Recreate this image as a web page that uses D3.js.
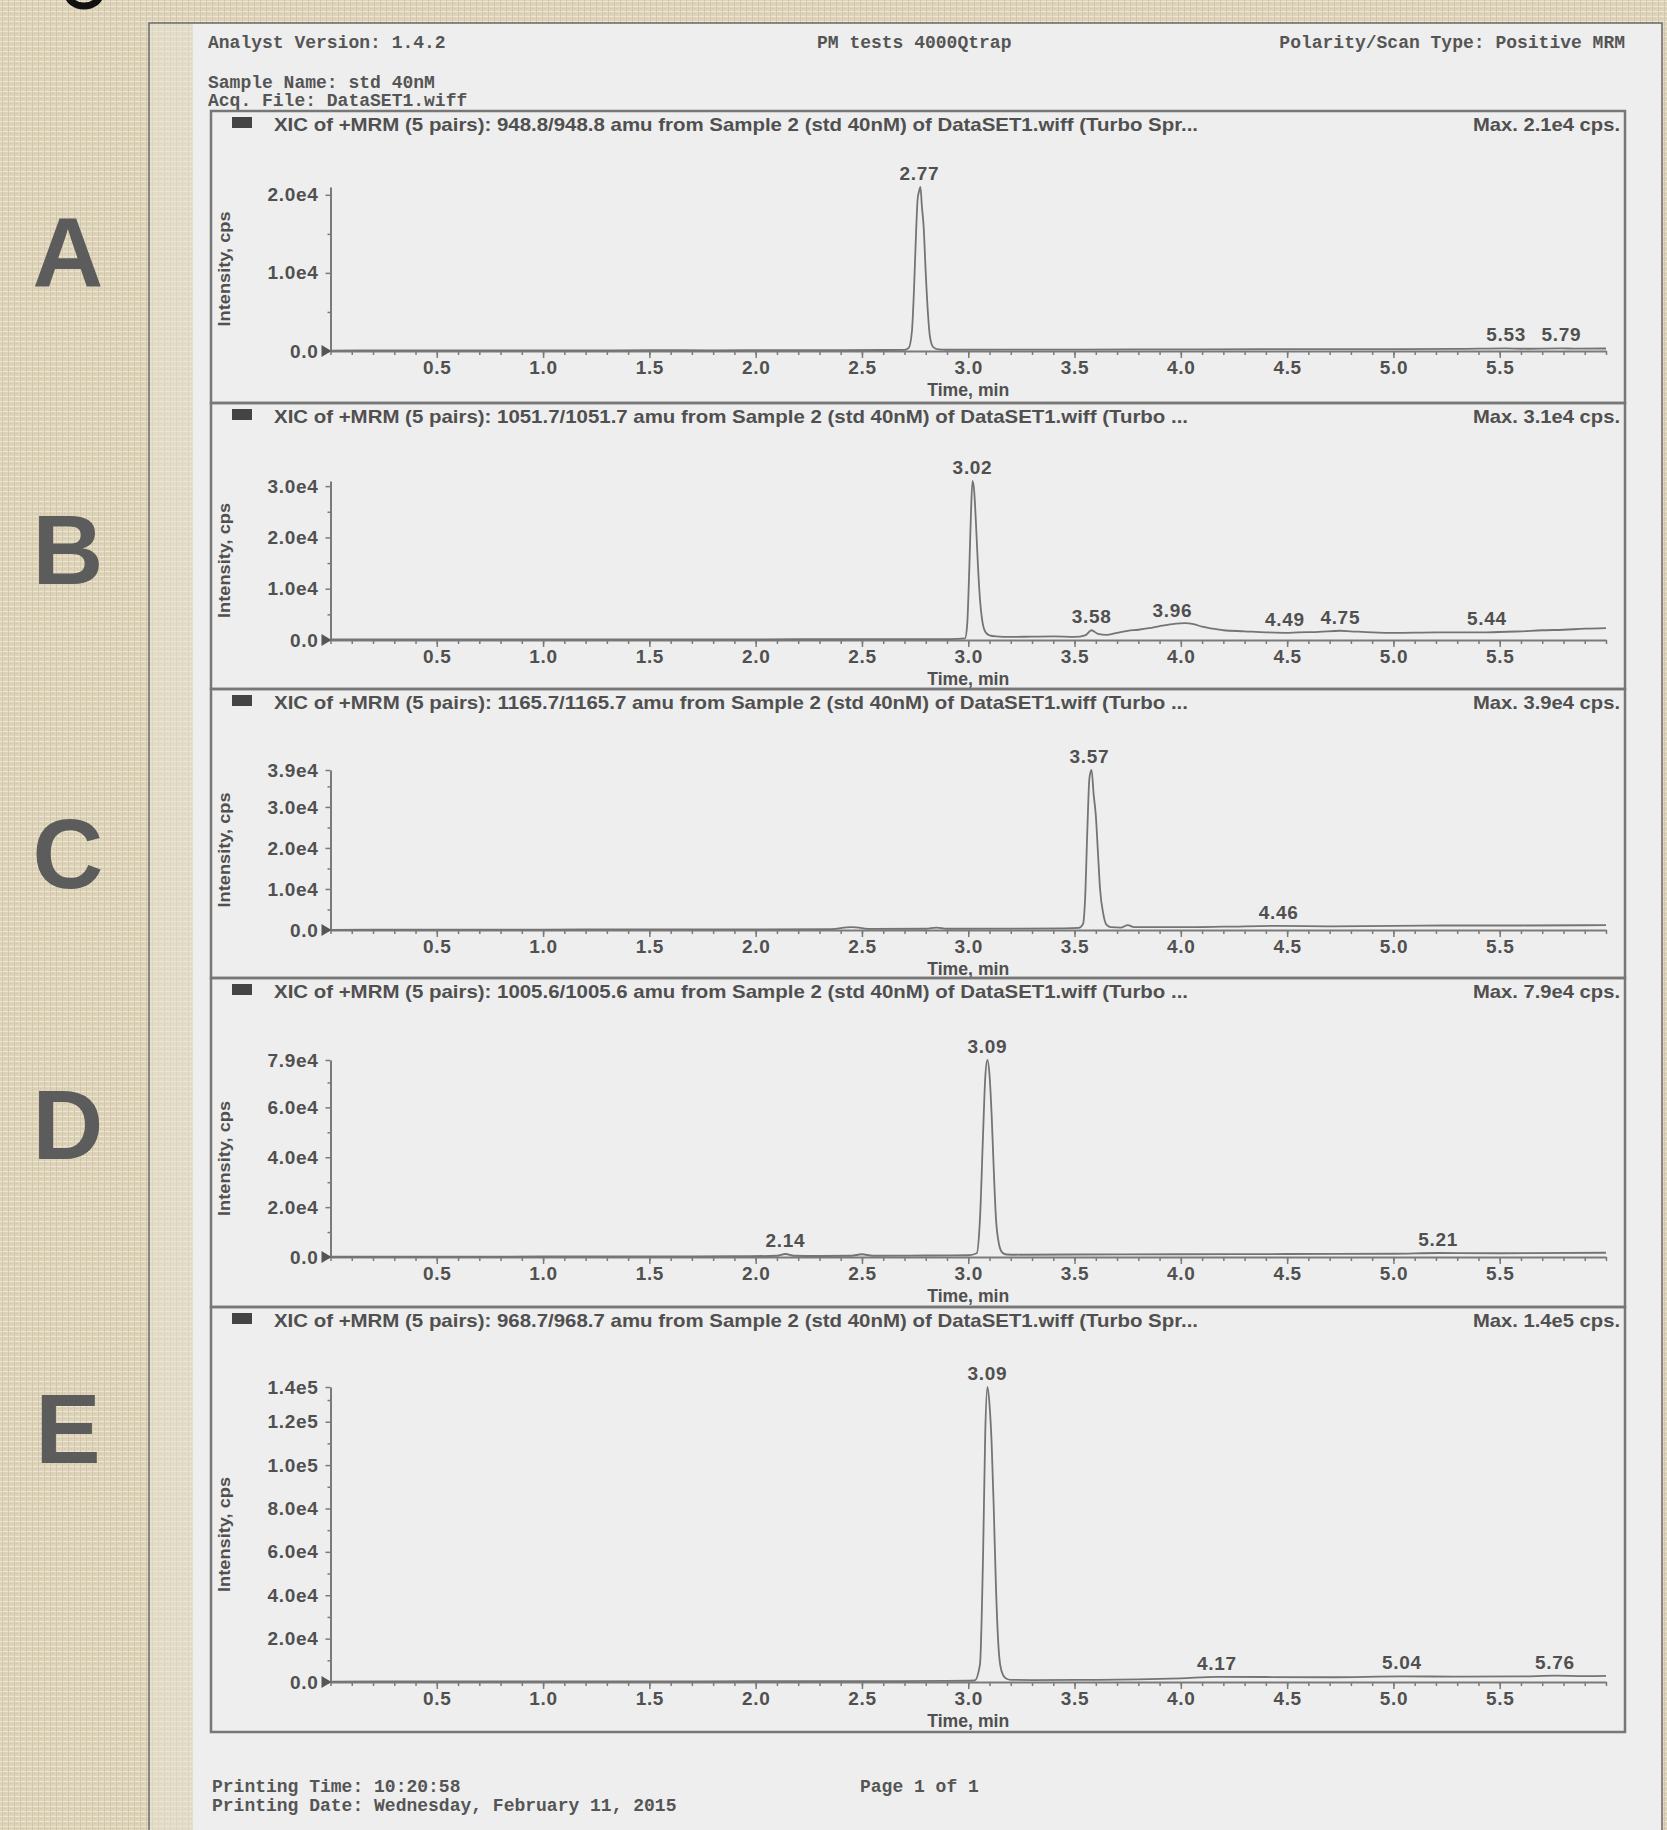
<!DOCTYPE html>
<html>
<head>
<meta charset="utf-8">
<script src="https://cdn.jsdelivr.net/npm/d3@7"></script>
<style>
  html, body { margin: 0; padding: 0; background: #ddd3ba; }
  svg { display: block; }
</style>
</head>
<body>
<div id="chart"></div>
<script>
// ---- data ----
const panelNames = ['A', 'B', 'C', 'D', 'E'];
const panelTitles = [
  'XIC of +MRM (5 pairs): 948.8/948.8 amu from Sample 2 (std 40nM) of DataSET1.wiff (Turbo Spr...',
  'XIC of +MRM (5 pairs): 1051.7/1051.7 amu from Sample 2 (std 40nM) of DataSET1.wiff (Turbo ...',
  'XIC of +MRM (5 pairs): 1165.7/1165.7 amu from Sample 2 (std 40nM) of DataSET1.wiff (Turbo ...',
  'XIC of +MRM (5 pairs): 1005.6/1005.6 amu from Sample 2 (std 40nM) of DataSET1.wiff (Turbo ...',
  'XIC of +MRM (5 pairs): 968.7/968.7 amu from Sample 2 (std 40nM) of DataSET1.wiff (Turbo Spr...'
];
const maxLabels = ['Max. 2.1e4 cps.', 'Max. 3.1e4 cps.', 'Max. 3.9e4 cps.', 'Max. 7.9e4 cps.', 'Max. 1.4e5 cps.'];
const yMax = [21000, 31000, 39000, 79000, 136000];

const yTicksA = [0, 10000, 20000];
const yTickLabelsA = ['0.0', '1.0e4', '2.0e4'];
const yTicksB = [0, 10000, 20000, 30000];
const yTickLabelsB = ['0.0', '1.0e4', '2.0e4', '3.0e4'];
const yTicksC = [0, 10000, 20000, 30000, 39000];
const yTickLabelsC = ['0.0', '1.0e4', '2.0e4', '3.0e4', '3.9e4'];
const yTicksD = [0, 20000, 40000, 60000, 79000];
const yTickLabelsD = ['0.0', '2.0e4', '4.0e4', '6.0e4', '7.9e4'];
const yTicksE = [0, 20000, 40000, 60000, 80000, 100000, 120000, 136000];
const yTickLabelsE = ['0.0', '2.0e4', '4.0e4', '6.0e4', '8.0e4', '1.0e5', '1.2e5', '1.4e5'];

const xTicks = [0.5, 1.0, 1.5, 2.0, 2.5, 3.0, 3.5, 4.0, 4.5, 5.0, 5.5];

// traces: time (min) / intensity (cps)
const timesA = [0.0, 0.3, 0.6, 0.9, 1.2, 1.5, 1.8, 2.1, 2.4, 2.6, 2.70, 2.72, 2.735, 2.745, 2.755, 2.762, 2.768, 2.775, 2.782, 2.79, 2.80, 2.81, 2.82, 2.835, 2.86, 2.9, 3.2, 3.5, 3.8, 4.1, 4.4, 4.7, 5.0, 5.3, 5.53, 5.6, 5.79, 5.85, 6.0];
const intensA = [60, 80, 70, 90, 80, 100, 90, 110, 120, 130, 150, 400, 2500, 8000, 15500, 19500, 20400, 21000, 18500, 16000, 10000, 5000, 1800, 500, 200, 160, 170, 180, 200, 210, 230, 240, 250, 270, 330, 290, 340, 300, 320];

const timesB = [0.0, 0.4, 0.8, 1.2, 1.6, 2.0, 2.4, 2.8, 2.95, 2.985, 2.995, 3.005, 3.013, 3.02, 3.028, 3.036, 3.045, 3.055, 3.065, 3.08, 3.10, 3.13, 3.2, 3.3, 3.4, 3.5, 3.55, 3.58, 3.61, 3.65, 3.7, 3.75, 3.8, 3.85, 3.9, 3.96, 4.02, 4.06, 4.1, 4.15, 4.2, 4.3, 4.4, 4.49, 4.55, 4.65, 4.75, 4.8, 4.9, 5.0, 5.2, 5.44, 5.6, 5.7, 5.8, 5.9, 6.0];
const intensB = [100, 120, 110, 130, 120, 140, 150, 170, 200, 300, 3000, 14000, 25000, 31000, 29000, 23000, 15000, 8000, 4000, 1600, 900, 700, 600, 650, 700, 600, 900, 1900, 1200, 1000, 1400, 1800, 2000, 2300, 2700, 3100, 3300, 3100, 2600, 2200, 1900, 1700, 1500, 1400, 1500, 1600, 1800, 1700, 1500, 1400, 1500, 1500, 1700, 1900, 2000, 2200, 2300];

const timesC = [0.0, 0.4, 0.8, 1.2, 1.6, 2.0, 2.35, 2.45, 2.55, 2.8, 2.85, 2.9, 3.2, 3.45, 3.52, 3.54, 3.55, 3.56, 3.57, 3.58, 3.59, 3.60, 3.61, 3.62, 3.635, 3.65, 3.67, 3.72, 3.75, 3.78, 4.0, 4.2, 4.46, 4.7, 5.0, 5.3, 5.6, 6.0];
const intensC = [50, 80, 100, 120, 140, 160, 200, 700, 250, 300, 600, 300, 350, 400, 500, 1500, 8000, 24000, 37000, 39000, 33000, 28000, 19000, 10000, 4000, 1300, 700, 600, 1200, 700, 700, 800, 1000, 900, 1000, 1100, 1100, 1200];

const timesD = [0.0, 0.5, 1.0, 1.5, 1.9, 2.1, 2.14, 2.18, 2.3, 2.45, 2.5, 2.55, 2.8, 3.0, 3.04, 3.055, 3.07, 3.08, 3.09, 3.1, 3.11, 3.12, 3.13, 3.145, 3.16, 3.18, 3.25, 3.5, 4.0, 4.5, 5.0, 5.21, 5.5, 6.0];
const intensD = [100, 150, 200, 250, 300, 500, 1200, 500, 400, 500, 1100, 500, 600, 700, 1500, 15000, 50000, 72000, 79000, 73000, 57000, 35000, 16000, 5000, 1800, 1000, 900, 1000, 1100, 1200, 1300, 1600, 1500, 1700];

const timesE = [0.0, 0.5, 1.0, 1.5, 2.0, 2.5, 2.9, 3.03, 3.055, 3.07, 3.08, 3.09, 3.10, 3.11, 3.12, 3.13, 3.14, 3.15, 3.165, 3.18, 3.2, 3.3, 3.6, 3.8, 4.0, 4.17, 4.4, 4.7, 5.04, 5.3, 5.6, 5.76, 5.9, 6.0];
const intensE = [200, 250, 300, 300, 350, 400, 500, 700, 8000, 60000, 115000, 136000, 128000, 110000, 80000, 45000, 20000, 8000, 3000, 1500, 1000, 900, 1000, 1200, 1700, 2400, 2300, 2200, 2600, 2500, 2600, 2900, 2700, 2800];

// labelled peaks: retention time + apex intensity
const peaksA = [2.77, 5.53, 5.79];
const peakIntA = [21000, 330, 340];
const peaksB = [3.02, 3.58, 3.96, 4.49, 4.75, 5.44];
const peakIntB = [31000, 1900, 3100, 1400, 1800, 1500];
const peaksC = [3.57, 4.46];
const peakIntC = [39000, 1000];
const peaksD = [3.09, 2.14, 5.21];
const peakIntD = [79000, 1200, 1600];
const peaksE = [3.09, 4.17, 5.04, 5.76];
const peakIntE = [136000, 2400, 2600, 2900];

const panels = [
  { times: timesA, intens: intensA, ticks: yTicksA, tickLabels: yTickLabelsA, peaks: peaksA, peakInt: peakIntA },
  { times: timesB, intens: intensB, ticks: yTicksB, tickLabels: yTickLabelsB, peaks: peaksB, peakInt: peakIntB },
  { times: timesC, intens: intensC, ticks: yTicksC, tickLabels: yTickLabelsC, peaks: peaksC, peakInt: peakIntC },
  { times: timesD, intens: intensD, ticks: yTicksD, tickLabels: yTickLabelsD, peaks: peaksD, peakInt: peakIntD },
  { times: timesE, intens: intensE, ticks: yTicksE, tickLabels: yTickLabelsE, peaks: peaksE, peakInt: peakIntE }
];

// ---- layout ----
const width = 1667;
const height = 1830;
const boxTop = [111, 403, 689, 978, 1307];
const boxBottom = [403, 689, 978, 1307, 1732];
const zeroY = [351, 640, 930, 1257, 1682];
const topY = [187, 481, 770, 1060, 1387];
const letterY = [286, 584, 888, 1159, 1463];

const ink = '#505050';
const lineCol = '#7a7a7a';
const sans = '"Liberation Sans", Arial, sans-serif';
const mono = '"Liberation Mono", "Courier New", monospace';

const svg = d3.select('#chart').append('svg')
  .attr('width', width)
  .attr('height', height);

// linen background
const defs = svg.append('defs');
const pat = defs.append('pattern')
  .attr('id', 'linen')
  .attr('width', 6).attr('height', 5)
  .attr('patternUnits', 'userSpaceOnUse');
pat.append('rect').attr('width', 6).attr('height', 5).attr('fill', '#ded4bb');
pat.append('rect').attr('y', 1).attr('width', 6).attr('height', 1).attr('fill', '#ece5d3');
pat.append('rect').attr('x', 2).attr('width', 1).attr('height', 5).attr('fill', '#c6b792').attr('opacity', 0.55);
pat.append('rect').attr('x', 4).attr('y', 3).attr('width', 2).attr('height', 1).attr('fill', '#cfc2a0').attr('opacity', 0.6);

svg.append('rect').attr('width', width).attr('height', height).attr('fill', 'url(#linen)');

// page
svg.append('rect')
  .attr('x', 149).attr('y', 23)
  .attr('width', 1513).attr('height', height)
  .attr('fill', '#e8e3d6')
  .attr('stroke', '#6a6a6a').attr('stroke-width', 1.5);
svg.append('rect')
  .attr('x', 150).attr('y', 24)
  .attr('width', 43).attr('height', height)
  .attr('fill', 'url(#linen)').attr('opacity', 0.5);
svg.append('rect')
  .attr('x', 193).attr('y', 24)
  .attr('width', 1468).attr('height', height)
  .attr('fill', '#eeeeee');

// bottom of a black glyph cut off by the top edge
svg.append('path')
  .attr('d', 'M68,-6 A16,12 0 0 0 100,-6')
  .attr('fill', 'none')
  .attr('stroke', '#111')
  .attr('stroke-width', 7);

// panel letters
svg.selectAll('text.letter')
  .data(panelNames)
  .enter()
  .append('text')
  .attr('class', 'letter')
  .attr('x', 68)
  .attr('y', (d, i) => letterY[i])
  .attr('text-anchor', 'middle')
  .style('font-family', sans).style('font-weight', 'bold')
  .style('font-size', '98px')
  .attr('fill', '#5c5c5c')
  .text(d => d);

// header and footer of the printout
function monoText(x, y, str, anchor) {
  svg.append('text')
    .attr('x', x).attr('y', y)
    .attr('text-anchor', anchor || 'start')
    .style('font-family', mono).style('font-weight', 'bold')
    .style('font-size', '18px')
    .attr('fill', '#555')
    .text(str);
}
monoText(208, 48, 'Analyst Version: 1.4.2');
monoText(817, 48, 'PM tests 4000Qtrap');
monoText(1625, 48, 'Polarity/Scan Type: Positive MRM', 'end');
monoText(208, 88, 'Sample Name: std 40nM');
monoText(208, 106, 'Acq. File: DataSET1.wiff');
monoText(212, 1792, 'Printing Time: 10:20:58');
monoText(212, 1811, 'Printing Date: Wednesday, February 11, 2015');
monoText(860, 1792, 'Page 1 of 1');

// small chart labels (scan looks slightly widened)
function labelStyle(sel) {
  sel.style('font-family', sans).style('font-weight', 'bold')
    .style('font-size', '19px').style('letter-spacing', '0.7px')
    .attr('fill', ink);
}

// ---- chromatograms ----
const x = d3.scaleLinear().domain([0, 6.0]).range([330.5, 1606]);

panels.forEach((p, i) => {
  const g = svg.append('g');
  const y = d3.scaleLinear().domain([0, yMax[i]]).range([zeroY[i], topY[i]]);

  // frame
  g.append('rect')
    .attr('x', 211).attr('y', boxTop[i])
    .attr('width', 1414).attr('height', boxBottom[i] - boxTop[i])
    .attr('fill', 'none')
    .attr('stroke', '#777').attr('stroke-width', 2.5);

  // title row
  g.append('rect')
    .attr('x', 232).attr('y', boxTop[i] + 6)
    .attr('width', 20).attr('height', 11)
    .attr('fill', '#444');
  g.append('text')
    .attr('x', 274).attr('y', boxTop[i] + 20)
    .attr('textLength', i === 0 || i === 4 ? 924 : 914)
    .attr('lengthAdjust', 'spacingAndGlyphs')
    .style('font-family', sans).style('font-weight', 'bold')
    .style('font-size', '19px')
    .attr('fill', ink)
    .text(panelTitles[i]);
  g.append('text')
    .attr('x', 1620).attr('y', boxTop[i] + 20)
    .attr('text-anchor', 'end')
    .attr('textLength', 147)
    .attr('lengthAdjust', 'spacingAndGlyphs')
    .style('font-family', sans).style('font-weight', 'bold')
    .style('font-size', '19px')
    .attr('fill', ink)
    .text(maxLabels[i]);

  // minor ticks
  const yStep = p.ticks[1] / 2;
  const yMinor = d3.range(yStep, yMax[i], yStep).filter(v => p.ticks.indexOf(v) < 0);
  g.append('g')
    .attr('transform', 'translate(' + x(0) + ',0)')
    .call(d3.axisLeft(y).tickValues(yMinor).tickSize(3).tickFormat(''))
    .call(a => a.select('.domain').remove())
    .call(a => a.selectAll('line').attr('stroke', lineCol).attr('stroke-width', 1.5));
  g.append('g')
    .attr('transform', 'translate(0,' + zeroY[i] + ')')
    .call(d3.axisBottom(x).tickValues(x.ticks(60)).tickSize(4).tickFormat(''))
    .call(a => a.select('.domain').remove())
    .call(a => a.selectAll('line').attr('stroke', lineCol).attr('stroke-width', 1.5));

  // Y axis
  g.append('g')
    .attr('transform', 'translate(' + x(0) + ',0)')
    .call(d3.axisLeft(y).tickValues(p.ticks)
      .tickFormat((d, k) => p.tickLabels[k])
      .tickSize(5).tickSizeOuter(0).tickPadding(7))
    .call(a => a.select('.domain').attr('stroke', lineCol).attr('stroke-width', 2))
    .call(a => a.selectAll('line').attr('stroke', lineCol).attr('stroke-width', 1.5))
    .call(a => a.selectAll('text').call(labelStyle));

  // X axis
  g.append('g')
    .attr('transform', 'translate(0,' + zeroY[i] + ')')
    .call(d3.axisBottom(x).tickValues(xTicks)
      .tickFormat(d3.format('.1f'))
      .tickSize(7).tickSizeOuter(0).tickPadding(3))
    .call(a => a.select('.domain').attr('stroke', lineCol).attr('stroke-width', 2))
    .call(a => a.selectAll('line').attr('stroke', lineCol).attr('stroke-width', 1.5))
    .call(a => a.selectAll('text').call(labelStyle));

  // origin marker
  g.append('path')
    .attr('d', d3.line()([[x(0) - 9, zeroY[i] - 6], [x(0) + 1, zeroY[i]], [x(0) - 9, zeroY[i] + 6]]) + 'Z')
    .attr('fill', '#555');

  // axis titles
  g.append('text')
    .attr('x', x(3.0)).attr('y', zeroY[i] + 45)
    .attr('text-anchor', 'middle')
    .call(labelStyle)
    .style('letter-spacing', '0px')
    .attr('textLength', 82)
    .attr('lengthAdjust', 'spacingAndGlyphs')
    .text('Time, min');
  g.append('text')
    .attr('transform', 'translate(230,' + ((zeroY[i] + topY[i]) / 2) + ') rotate(-90)')
    .attr('text-anchor', 'middle')
    .attr('textLength', 115)
    .attr('lengthAdjust', 'spacingAndGlyphs')
    .style('font-family', sans).style('font-weight', 'bold')
    .style('font-size', '17px').attr('fill', ink)
    .text('Intensity, cps');

  // trace
  const pts = p.times.map((t, k) => [t, p.intens[k]]);
  g.append('path')
    .attr('d', d3.line()
      .x(d => x(d[0]))
      .y(d => y(d[1]))
      .curve(d3.curveMonotoneX)(pts))
    .attr('fill', 'none')
    .attr('stroke', '#747474')
    .attr('stroke-width', 1.8);

  // peak labels
  g.selectAll('text.peak')
    .data(p.peaks)
    .enter()
    .append('text')
    .attr('class', 'peak')
    .attr('x', d => x(d))
    .attr('y', (d, k) => y(p.peakInt[k]) - 7)
    .attr('text-anchor', 'middle')
    .call(labelStyle)
    .text(d => d3.format('.2f')(d));
});
</script>
</body>
</html>
